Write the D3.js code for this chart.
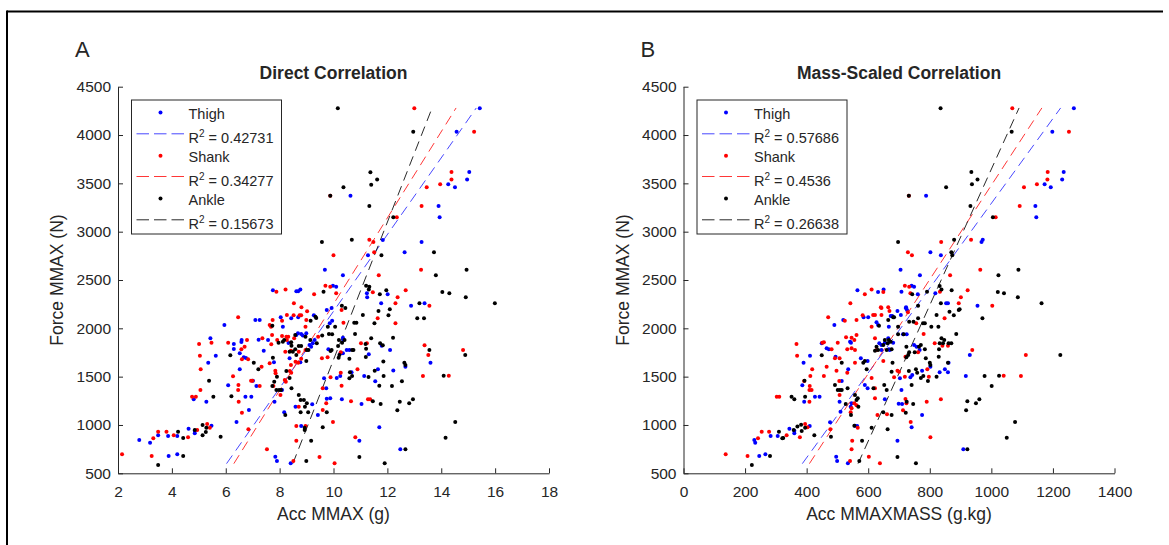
<!DOCTYPE html>
<html><head><meta charset="utf-8">
<script src="https://cdn.jsdelivr.net/npm/d3@7"></script>
<style>body{margin:0;background:#fff}svg{display:block}text{font-family:"Liberation Sans",Arial,sans-serif;fill:#262626}</style>
</head><body><svg id="c" width="1169" height="545"></svg>
<script>
// ---------- DATA ----------
const yTicks = [500,1000,1500,2000,2500,3000,3500,4000,4500];
const xTicksA = [2,4,6,8,10,12,14,16,18];
const xTicksB = [0,200,400,600,800,1000,1200,1400];
const seriesNames = ["Thigh","Shank","Ankle"];
const r2A = ["0.42731","0.34277","0.15673"];
const r2B = ["0.57686","0.4536","0.26638"];

const thighA = [[15.43,4276],[14.57,4034],[10.63,3372],[15.04,3617],[14.96,3541],[14.26,3490],[14.51,3459],[13.90,3265],[13.94,3148],[11.83,2914],[13.27,2893],[11.28,2755],[12.64,2786],[9.68,2606],[10.35,2548],[9.98,2441],[10.1,2431],[11.24,2362],[11.25,2321],[12.01,2352],[11.77,2259],[12.88,2234],[13.38,2259],[9.93,2210],[7.75,2393],[8.62,2383],[8.69,2383],[8.77,2403],[9.75,2190],[9.95,2079],[9.86,2052],[10.35,1903],[10.37,1879],[10.49,1776],[10.59,1776],[9.81,1783],[10.26,1741],[10.35,1741],[11.31,1731],[12.10,1776],[11.79,1820],[13.60,1644],[12.67,1603],[12.22,1563],[11.65,1576],[11.14,1507],[10.67,1545],[10.25,1507],[10.12,1486],[9.65,1483],[11.55,1452],[9.73,1379],[9.88,1276],[9.75,1272],[10.31,1266],[11.04,1217],[11.70,976],[10.96,837],[12.48,748],[9.27,2134],[8.43,2103],[8.04,2114],[8.69,2114],[8.12,2017],[7.57,1879],[7.41,1768],[7.22,1882],[8.33,1848],[8.62,1931],[8.68,1948],[8.99,1948],[8.80,1941],[8.86,1927],[9.11,1827],[9.17,1810],[9.23,1845],[9.30,1879],[8.77,1648],[8.37,1690],[7.79,1648],[8.09,1362],[7.81,1241],[8.17,1131],[8.59,1189],[9.21,1214],[9.42,1103],[8.80,990],[7.84,672],[7.90,627],[8.41,603],[5.95,2034],[5.43,1897],[5.63,1717],[5.35,1644],[4.81,1266],[5.28,1241],[6.30,1838],[6.30,1786],[6.59,1879],[6.58,1858],[6.67,1700],[6.75,1693],[6.52,1576],[7.10,2086],[7.26,2086],[6.09,1410],[6.73,1293],[6.95,1293],[6.40,1031],[6.86,1155],[7.01,1458],[7.14,1403],[5.47,993],[4.85,941],[4.85,914],[4.62,962],[4.20,886],[3.86,886],[3.49,893],[3.19,817],[2.79,845],[3.88,679],[4.20,696],[6.52,1741]];

const shankA = [[13.0,4276],[15.22,4034],[9.88,3372],[14.38,3617],[14.38,3541],[13.96,3490],[13.46,3459],[13.27,3265],[12.35,3148],[11.33,2917],[11.48,2893],[10.0,2755],[11.51,2786],[11.68,2548],[13.25,2606],[9.70,2441],[9.88,2431],[10.1,2362],[11.46,2372],[12.38,2321],[12.68,2393],[12.30,2259],[13.56,2234],[7.88,2379],[8.22,2403],[9.28,2352],[8.53,2259],[10.30,2190],[11.64,2103],[12.30,2052],[10.37,2058],[11.02,1845],[11.24,1845],[10.27,1752],[9.57,1690],[9.78,1700],[13.38,1824],[13.52,1724],[14.81,1776],[14.28,1510],[13.32,1507],[10.89,1576],[10.27,1541],[9.89,1493],[10.30,1406],[9.60,1379],[9.73,1224],[9.60,1155],[10.65,1245],[11.28,1266],[11.36,1266],[9.98,1031],[10.81,872],[9.48,669],[10.04,603],[8.81,2217],[9.02,2176],[8.99,2086],[8.96,2017],[8.74,2134],[8.80,2134],[8.27,2138],[8.52,2134],[8.09,2079],[7.74,2086],[7.63,2034],[7.68,2017],[7.72,1931],[7.91,1879],[8.27,1879],[7.36,1897],[7.69,1834],[8.25,1913],[8.32,1913],[8.21,1758],[8.42,1768],[8.09,1920],[8.54,1897],[8.96,1776],[9.43,1913],[8.71,1758],[8.59,1655],[8.42,1620],[8.69,1644],[8.80,1686],[8.38,1558],[8.43,1541],[8.19,1465],[8.23,1448],[7.84,1562],[7.85,1534],[7.63,1638],[7.77,1403],[8.03,1310],[8.71,1189],[8.62,990],[8.96,990],[8.62,837],[7.53,748],[8.51,627],[6.09,1851],[5.47,1851],[5.01,1838],[5.04,1717],[5.07,1576],[5.06,1362],[4.75,1293],[4.89,1293],[6.58,1783],[6.79,1879],[6.60,1679],[6.83,1679],[6.70,1810],[7.33,1603],[6.46,2114],[6.47,1414],[6.46,1362],[6.27,1503],[6.48,1241],[6.60,1127],[6.99,1458],[6.94,1458],[7.26,1403],[6.84,955],[5.31,1010],[5.41,972],[4.94,948],[4.60,872],[4.07,893],[3.80,931],[3.49,931],[3.31,862],[2.15,696],[3.25,679]];

const ankleA = [[10.16,4276],[12.96,4034],[11.37,3614],[11.62,3541],[11.40,3486],[10.37,3459],[9.88,3372],[11.33,3265],[12.22,3148],[9.57,2893],[10.68,2917],[11.78,2755],[13.73,2786],[13.80,2548],[14.94,2606],[9.63,2379],[11.21,2441],[11.33,2431],[11.31,2403],[11.72,2352],[11.96,2393],[14.04,2376],[14.30,2362],[14.91,2321],[13.19,2259],[15.99,2259],[10.31,2234],[10.44,2210],[12.09,2197],[11.09,2138],[11.67,2179],[12.04,2134],[11.52,2052],[13.36,2103],[13.11,2103],[10.77,2058],[10.85,2058],[10.06,2017],[9.79,2017],[9.58,1925],[9.83,1941],[9.95,1938],[10.80,1941],[11.40,1897],[10.2,1879],[10.41,1879],[10.32,1851],[12.21,1903],[11.19,1838],[11.73,1845],[11.83,1824],[10.17,1817],[9.93,1776],[9.89,1765],[10.69,1776],[10.74,1776],[10.22,1724],[10.19,1696],[10.59,1686],[11.21,1789],[11.20,1703],[11.85,1658],[13.56,1776],[12.63,1644],[12.67,1620],[14.89,1724],[14.09,1510],[11.86,1507],[11.53,1562],[11.30,1496],[10.61,1545],[10.69,1507],[10.59,1483],[11.70,1406],[12.17,1403],[12.54,1452],[9.75,1131],[11.46,1245],[11.75,1217],[12.46,1241],[12.37,1152],[12.81,1224],[12.95,1266],[9.60,976],[14.52,1031],[14.16,868],[12.67,748],[10.96,669],[11.90,603],[9.33,2121],[9.36,2107],[9.15,2079],[7.73,2027],[7.96,1851],[8.12,1862],[8.17,1879],[8.43,1855],[8.44,1820],[8.37,1758],[8.49,1758],[8.58,1783],[8.58,1931],[8.80,1817],[8.71,1817],[9.01,1776],[9.07,1776],[9.14,1879],[9.38,1845],[8.96,1913],[8.62,1724],[8.99,1662],[8.37,1486],[8.25,1558],[7.80,1448],[7.90,1500],[7.75,1696],[7.88,1362],[7.98,1362],[8.05,1362],[7.73,1403],[8.21,1103],[8.44,1379],[8.71,1310],[8.78,1258],[8.94,1189],[9.01,1224],[8.78,1131],[9.06,1131],[8.90,1258],[8.93,972],[8.93,948],[9.17,837],[8.99,627],[6.17,1721],[5.38,1458],[5.54,1293],[7.04,1644],[7.21,1576],[6.21,1296],[5.81,879],[5.14,1000],[5.28,972],[5.14,893],[5.26,927],[4.85,948],[4.42,865],[4.23,931],[4.42,679],[3.49,586]];

const thighB = [[565,2393],[632,2376],[650,2403],[1268,4276],[1198,4034],[788,3372],[1235,3617],[1230,3541],[1173,3490],[1193,3459],[1143,3265],[1146,3148],[972,2917],[968,2893],[802,2786],[836,2755],[705,2606],[768,2548],[741,2441],[749,2431],[708,2379],[761,2352],[818,2362],[853,2259],[859,2259],[955,2234],[722,2210],[723,2217],[726,2190],[706,2138],[695,2179],[673,2127],[678,2127],[667,2017],[713,1938],[725,1938],[665,1897],[681,1851],[667,1783],[749,1827],[757,1810],[767,1776],[802,1603],[775,1562],[743,1517],[737,1493],[703,1483],[708,1362],[832,1545],[849,1576],[861,1644],[930,1724],[917,1507],[775,1103],[710,1217],[699,1220],[741,976],[695,837],[909,748],[859,1545],[519,2086],[490,2034],[585,2114],[627,2062],[632,2034],[600,2114],[541,1862],[544,1851],[465,1793],[472,1783],[494,1707],[535,1576],[576,1690],[598,1662],[589,1414],[598,1379],[543,1189],[546,1224],[510,1138],[507,1241],[514,1455],[557,993],[564,990],[496,672],[499,627],[534,603],[476,1028],[410,990],[360,914],[360,941],[344,962],[306,886],[283,886],[230,845],[233,817],[246,679],[266,696],[411,1717],[390,1644],[386,1410],[392,1241],[427,1293],[442,1293],[449,1845],[643,1776],[654,1851],[670,1776],[636,1845],[643,1827],[654,1266]];

const shankB = [[589,2352],[611,2403],[649,2376],[542,2259],[643,2210],[1068,4276],[1252,4034],[732,3372],[1183,3617],[1182,3541],[1106,3459],[1148,3490],[1092,3265],[1014,3148],[837,2893],[934,2917],[729,2786],[742,2755],[964,2606],[866,2548],[719,2441],[733,2431],[737,2362],[833,2379],[901,2321],[923,2393],[894,2259],[1003,2234],[729,2166],[669,2179],[848,2103],[756,2052],[780,1941],[762,1752],[721,1707],[792,1576],[719,1500],[700,1551],[695,1562],[684,1493],[797,1500],[859,1820],[816,1845],[841,1820],[938,1776],[1112,1724],[1040,1510],[1096,1507],[836,1266],[790,1241],[721,1269],[724,1224],[713,1152],[738,1031],[802,872],[641,2217],[470,2114],[524,2079],[562,2086],[582,2134],[616,2138],[622,2138],[611,2017],[665,2217],[643,2138],[528,1907],[546,1903],[555,1879],[562,1931],[501,1851],[481,1783],[451,1851],[456,1855],[532,1783],[546,1793],[557,1776],[492,1690],[507,1690],[497,1562],[465,1603],[456,1507],[532,1541],[557,1644],[611,1486],[622,1276],[555,1224],[562,1203],[546,1172],[507,1310],[506,1455],[543,1131],[566,972],[548,837],[546,748],[602,672],[638,603],[541,627],[477,955],[395,1010],[403,976],[378,872],[335,893],[278,931],[254,931],[242,862],[137,696],[208,679],[369,1717],[367,1838],[418,1576],[392,1455],[410,1403],[416,1362],[409,1362],[409,1241],[303,1293],[311,1293],[412,1507],[622,1897],[627,1776],[649,1662],[661,1110],[630,1103],[622,1379]];

const ankleB = [[835,4276],[1066,4034],[935,3617],[955,3541],[937,3490],[853,3459],[732,3372],[932,3265],[1005,3148],[697,2893],[879,2917],[870,2786],[873,2755],[1023,2548],[1088,2606],[743,2352],[791,2379],[832,2438],[838,2403],[871,2393],[1021,2376],[1041,2362],[1086,2321],[836,2259],[1163,2259],[762,2234],[897,2197],[822,2138],[894,2190],[878,2134],[864,2172],[971,2103],[805,2017],[828,2017],[778,2052],[784,2052],[762,2103],[747,2068],[733,2068],[684,2114],[697,2017],[715,1938],[697,1938],[654,1879],[667,1879],[673,1862],[663,1845],[676,1783],[660,1776],[724,1810],[765,1810],[771,1827],[751,1752],[733,1752],[730,1724],[679,1644],[724,1700],[784,1783],[787,1690],[800,1644],[802,1620],[779,1507],[771,1486],[759,1541],[755,1576],[732,1558],[676,1551],[660,1362],[741,1414],[794,1455],[822,1500],[829,1707],[859,1644],[861,1845],[838,1897],[843,1845],[832,1845],[847,1879],[830,1783],[870,1845],[886,1941],[1224,1724],[978,1507],[1025,1510],[1001,1403],[922,1245],[961,1266],[950,1224],[918,1152],[746,1217],[725,1241],[722,1127],[676,1103],[663,955],[922,748],[1077,1031],[1050,868],[695,669],[755,603],[635,2027],[665,2086],[681,2114],[449,1721],[514,1644],[584,1644],[589,1662],[595,1576],[617,1379],[557,1310],[566,1276],[562,1258],[568,1189],[527,1217],[533,1379],[501,1362],[508,1362],[514,1362],[492,1414],[544,1103],[555,993],[611,972],[580,837],[571,627],[479,879],[425,893],[382,1003],[395,972],[384,938],[370,983],[358,948],[324,865],[321,862],[310,931],[281,679],[222,586],[393,1458],[395,1293],[351,1293],[360,1266],[622,1768],[632,1776],[627,1810],[649,1827],[649,1131],[652,1414]];

// fitted lines (endpoints)
const fitThighA = [[6.03,600],[15.3,4280]];
const fitShankA = [[6.30,600],[14.55,4280]];
const fitAnkleA = [[8.49,600],[13.66,4280]];
const fitThighB = [[386,600],[1225,4280]];
const fitShankB = [[409,600],[1164,4280]];
const fitAnkleB = [[567,600],[1090,4280]];

// ---------- DRAW ----------
const svg = d3.select("#c");
const colors = ["#0000ff","#ff0000","#000000"];
const lineColors = ["#3333ff","#ff2020","#111111"];
const axisCol = "#262626";

// outer frame
svg.append("line").attr("x1",7).attr("x2",1163).attr("y1",11.5).attr("y2",11.5).attr("stroke","#000").attr("stroke-width",2);
svg.append("line").attr("x1",7).attr("x2",7).attr("y1",10.5).attr("y2",545).attr("stroke","#000").attr("stroke-width",2);

function panel(cfg){
  const x = d3.scaleLinear().domain(cfg.xDomain).range([cfg.left, cfg.left+431]);
  const y = d3.scaleLinear().domain([500,4500]).range([473.3, 86.7]);
  const g = svg.append("g");
  const fmt = d3.format("d");

  // axes
  const xa = g.append("g").attr("transform","translate(0,473.3)")
    .call(d3.axisBottom(x).tickValues(cfg.xTicks).tickFormat(fmt).tickSizeInner(-5).tickSizeOuter(0).tickPadding(12.5));
  const ya = g.append("g").attr("transform",`translate(${cfg.left},0)`)
    .call(d3.axisLeft(y).tickValues(yTicks).tickFormat(fmt).tickSizeInner(-5).tickSizeOuter(0).tickPadding(7));
  [xa,ya].forEach(a=>{
    a.selectAll("path").attr("stroke",axisCol).attr("stroke-width",1);
    a.selectAll("line").attr("stroke",axisCol);
    a.selectAll("text").attr("font-size","15.5px").attr("fill",axisCol).attr("font-family","Liberation Sans, Arial, sans-serif");
  });

  // fit lines
  const ln = d3.line().x(d=>x(d[0])).y(d=>y(d[1]));
  cfg.fits.forEach((f,i)=>{
    g.append("path").attr("d",ln(f)).attr("fill","none").attr("stroke",lineColors[i])
     .attr("stroke-width",0.9).attr("stroke-dasharray","10,6");
  });

  // points
  cfg.series.forEach((s,i)=>{
    g.append("g").selectAll("circle").data(s).join("circle")
     .attr("cx",d=>x(d[0])).attr("cy",d=>y(d[1])).attr("r",2).attr("fill",colors[i]);
  });

  // titles
  g.append("text").attr("x",cfg.left-43).attr("y",57.3).attr("font-size","22px").text(cfg.letter).attr("fill","#000");
  g.append("text").attr("x",cfg.left+215.5).attr("y",79).attr("text-anchor","middle")
    .attr("font-size","17.5px").attr("font-weight","bold").attr("fill","#000").text(cfg.title);
  g.append("text").attr("x",cfg.left+215.5).attr("y",519.5).attr("text-anchor","middle")
    .attr("font-size","17.5px").text(cfg.xLabel);
  g.append("text").attr("transform",`translate(${cfg.left-55},280) rotate(-90)`).attr("text-anchor","middle")
    .attr("font-size","17.5px").text("Force MMAX (N)");

  // legend
  const L = g.append("g").attr("transform",`translate(${cfg.left+13.5},100)`);
  L.append("rect").attr("x",0).attr("y",0).attr("width",150).attr("height",134)
    .attr("fill","#fff").attr("stroke",axisCol).attr("stroke-width",1);
  const base = [19,43.3,62.3,86,105,129.3];
  seriesNames.forEach((nm,i)=>{
    const b1 = base[2*i], b2 = base[2*i+1];
    L.append("circle").attr("cx",29).attr("cy",b1-6.5).attr("r",2).attr("fill",colors[i]);
    L.append("text").attr("x",57).attr("y",b1).attr("font-size","14.5px").text(nm);
    L.append("line").attr("x1",5).attr("x2",52.5).attr("y1",b2-9.5).attr("y2",b2-9.5)
      .attr("stroke",lineColors[i]).attr("stroke-width",0.9).attr("stroke-dasharray","12.5,5");
    const t = L.append("text").attr("x",57).attr("y",b2).attr("font-size","14.5px");
    t.append("tspan").text("R");
    t.append("tspan").attr("dy",-6).attr("font-size","10px").text("2");
    t.append("tspan").attr("dy",6).text(" = " + cfg.r2[i]);
  });
}

panel({left:118, xDomain:[2,18], xTicks:xTicksA, letter:"A", title:"Direct Correlation",
  xLabel:"Acc MMAX (g)", series:[thighA,shankA,ankleA], fits:[fitThighA,fitShankA,fitAnkleA], r2:r2A});
panel({left:683.5, xDomain:[0,1400], xTicks:xTicksB, letter:"B", title:"Mass-Scaled Correlation",
  xLabel:"Acc MMAXMASS (g.kg)", series:[thighB,shankB,ankleB], fits:[fitThighB,fitShankB,fitAnkleB], r2:r2B});
</script></body></html>
